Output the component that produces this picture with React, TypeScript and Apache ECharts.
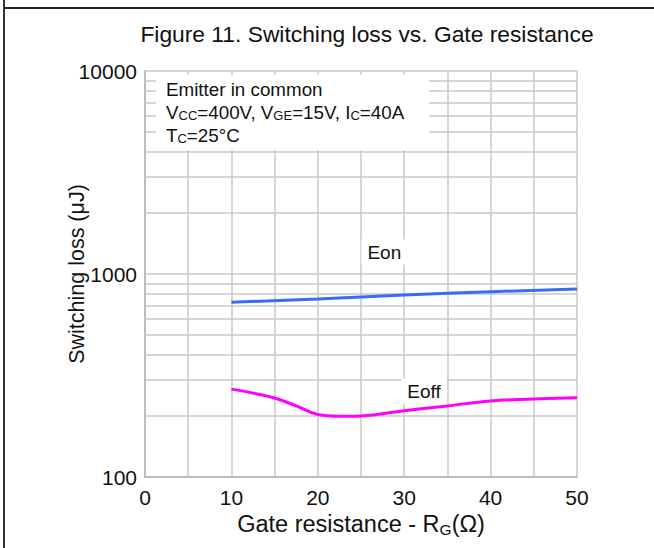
import React, { useEffect, useRef } from "react";
import * as echarts from "echarts";

const title = "Figure 11. Switching loss vs. Gate resistance";
const xTicks = [0, 10, 20, 30, 40, 50];
const eonX = [10, 20, 30, 40, 50];
const eonY = [726, 753, 788, 818, 843];
const eoffX = [10, 12.5, 15, 17.5, 20, 22.5, 25, 30, 35, 40, 45, 50];
const eoffY = [271, 259, 245, 224, 203, 199, 200, 212, 224, 237, 242, 246];
const minorYLines = [200, 300, 400, 500, 600, 700, 800, 900, 2000, 3000, 4000, 5000, 6000, 7000, 8000, 9000];
const noteLines = ["Emitter in common", "V{s|CC}=400V, V{s|GE}=15V, I{s|C}=40A", "T{s|C}=25°C"];
const eonLabel = { name: "Eon", x: 27.7, y: 1283 };
const eoffLabel = { name: "Eoff", x: 32.3, y: 265 };

const FONT = "'Liberation Sans', Arial, sans-serif";
const GRID = "#c8c8c8";

export default function App() {
  const ref = useRef<HTMLDivElement>(null);
  useEffect(() => {
    if (!ref.current) return;
    const chart = echarts.init(ref.current, null, { renderer: "svg" });
    const rich = {
      n: { fontSize: 18.8, lineHeight: 23, fontFamily: FONT, color: "#111", verticalAlign: "bottom" as const },
      s: { fontSize: 13, lineHeight: 15, fontFamily: FONT, color: "#111", verticalAlign: "bottom" as const },
    };
    const labelMark = (l: { name: string; x: number; y: number }) => ({
      coord: [l.x, l.y],
      value: l.name,
      symbol: "circle",
      symbolSize: 1,
      itemStyle: { color: "rgba(0,0,0,0)" },
      label: {
        show: true,
        position: "inside",
        formatter: l.name,
        fontSize: 19,
        fontFamily: FONT,
        color: "#111",
        backgroundColor: "#fff",
        padding: [3, 6],
      },
    });
    chart.setOption({
      animation: false,
      backgroundColor: "#fff",
      textStyle: { fontFamily: FONT },
      title: {
        text: title,
        left: 362,
        textAlign: "center",
        top: 17,
        textStyle: { fontSize: 22.8, fontWeight: "normal", color: "#111", fontFamily: FONT },
      },
      grid: { left: 145, right: 77, top: 71, bottom: 71, containLabel: false },
      xAxis: {
        type: "value",
        min: 0,
        max: 50,
        interval: 10,
        name: "Gate resistance - R{s|G}(Ω)",
        nameLocation: "middle",
        nameGap: 34,
        nameMoveOverlap: false,
        nameTextStyle: {
          fontSize: 23.5,
          color: "#111",
          fontFamily: FONT,
          lineHeight: 26,
          rich: {
            s: { fontSize: 15.5, lineHeight: 16, verticalAlign: "bottom", fontFamily: FONT, color: "#111" },
          },
        },
        axisLine: { show: true, lineStyle: { color: "#bdbdbd", width: 2 } },
        axisTick: { show: false },
        axisLabel: {
          fontSize: 21,
          color: "#111",
          margin: 10,
          fontFamily: FONT,
          customValues: xTicks,
        },
        splitLine: { show: true, lineStyle: { color: GRID, width: 1.5 } },
        minorTick: { show: false, splitNumber: 2 },
        minorSplitLine: { show: true, lineStyle: { color: GRID, width: 1.5 } },
      },
      yAxis: {
        type: "log",
        logBase: 10,
        min: 100,
        max: 10000,
        name: "Switching loss (μJ)",
        nameLocation: "middle",
        nameGap: 57,
        nameMoveOverlap: false,
        nameTextStyle: { fontSize: 21.5, color: "#111", fontFamily: FONT },
        axisLine: { show: true, lineStyle: { color: "#bdbdbd", width: 2 } },
        axisTick: { show: false },
        axisLabel: {
          fontSize: 21,
          color: "#111",
          margin: 8,
          fontFamily: FONT,
          formatter: (v: number) => String(Math.round(v)),
        },
        splitLine: { show: true, lineStyle: { color: GRID, width: 1.5 } },
      },
      graphic: [
        { type: "line", shape: { x1: 4, y1: 0, x2: 4, y2: 548 }, style: { stroke: "#333", lineWidth: 2 }, z: 100 },
        { type: "line", shape: { x1: 4, y1: 8, x2: 654, y2: 8 }, style: { stroke: "#222", lineWidth: 2 }, z: 100 },
        { type: "rect", shape: { x: 156, y: 75, width: 273, height: 75 }, style: { fill: "#fff" }, z: 50 },
        ...noteLines.map((t, i) => ({
          type: "text",
          x: 166,
          y: 76 + i * 23,
          z: 51,
          style: {
            text: t.replace(/^([^{]+)/, "{n|$1}").replace(/\}([^{}]+)\{/g, "}{n|$1}{").replace(/\}([^{}]+)$/, "}{n|$1}"),
            rich,
            fill: "#111",
            font: `18.8px ${FONT}`,
          },
        })),
      ],
      series: [
        {
          type: "line",
          name: "grid-minor",
          data: [],
          silent: true,
          markLine: {
            silent: true,
            symbol: "none",
            label: { show: false },
            lineStyle: { color: GRID, width: 1.5, type: "solid" },
            data: minorYLines.map((v) => ({ yAxis: v })),
          },
          z: 1,
        },
        {
          type: "line",
          name: "Eon",
          data: eonX.map((x, i) => [x, eonY[i]]),
          showSymbol: false,
          smooth: true,
          lineStyle: { color: "#3a6cf4", width: 3 },
          z: 5,
          markPoint: { silent: true, data: [labelMark(eonLabel)] },
        },
        {
          type: "line",
          name: "Eoff",
          data: eoffX.map((x, i) => [x, eoffY[i]]),
          showSymbol: false,
          smooth: 0.4,
          lineStyle: { color: "#ff00ff", width: 3 },
          z: 5,
          markPoint: { silent: true, data: [labelMark(eoffLabel)] },
        },
      ],
    });
    return () => chart.dispose();
  }, []);
  return <div ref={ref} style={{ width: 654, height: 548, position: "absolute", left: 0, top: 0 }} />;
}
